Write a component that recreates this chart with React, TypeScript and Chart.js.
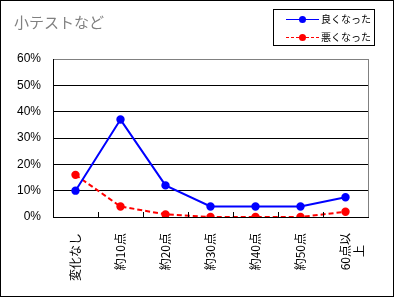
import React, { useEffect, useRef } from "react";
import { Chart, registerables } from "chart.js";

Chart.register(...registerables);

const title = "小テストなど";
const categories: (string | string[])[] = [
  "変化なし",
  "約10点",
  "約20点",
  "約30点",
  "約40点",
  "約50点",
  ["60点以", "上　"],
];
const seriesNames = ["良くなった", "悪くなった"];
const goodValues = [10, 37, 12, 4, 4, 4, 7.5];
const badValues = [16, 4, 1, 0, 0, 0, 2];
const yTicks = [0, 10, 20, 30, 40, 50, 60];

const FONT = "'Noto Sans CJK JP', 'Liberation Sans', sans-serif";

const decorPlugin = {
  id: "decor",
  afterDraw(chart: any) {
    const ctx = chart.ctx;
    const ca = chart.chartArea;
    const xs = chart.scales.x;
    ctx.save();
    ctx.setLineDash([]);
    // right plot border (gray)
    ctx.strokeStyle = "#808080";
    ctx.lineWidth = 1;
    ctx.beginPath();
    ctx.moveTo(Math.round(ca.right) + 0.5, ca.top);
    ctx.lineTo(Math.round(ca.right) + 0.5, ca.bottom);
    ctx.stroke();
    // inside tick marks on x axis at category boundaries
    ctx.strokeStyle = "#000";
    ctx.lineWidth = 1;
    const n = chart.data.labels.length;
    const yb = Math.round(ca.bottom);
    for (let i = 0; i < n - 1; i++) {
      const bx = Math.round(xs.getPixelForValue(i + 0.5)) + 0.5;
      ctx.beginPath();
      ctx.moveTo(bx, yb);
      ctx.lineTo(bx, yb - 5);
      ctx.stroke();
    }
    // title
    ctx.fillStyle = "#808080";
    ctx.font = `15px ${FONT}`;
    ctx.textBaseline = "middle";
    ctx.textAlign = "left";
    ctx.fillText(title, 14, 22);
    // legend
    ctx.strokeStyle = "#000";
    ctx.lineWidth = 1;
    ctx.strokeRect(273.5, 9.5, 101, 36);
    const rows = [19, 37];
    chart.data.datasets.forEach((ds: any, i: number) => {
      const y = rows[i] + 0.5;
      ctx.strokeStyle = ds.borderColor;
      ctx.lineWidth = 1;
      ctx.setLineDash(ds.borderDash && ds.borderDash.length ? [3, 2] : []);
      ctx.beginPath();
      ctx.moveTo(286, y);
      ctx.lineTo(319, y);
      ctx.stroke();
      ctx.setLineDash([]);
      ctx.fillStyle = ds.pointBackgroundColor;
      ctx.beginPath();
      ctx.arc(302.5, y, 3.5, 0, Math.PI * 2);
      ctx.fill();
      ctx.fillStyle = "#000";
      ctx.font = `10px ${FONT}`;
      ctx.textBaseline = "middle";
      ctx.fillText(ds.label, 321, y);
    });
    // outer border
    ctx.strokeStyle = "#000";
    ctx.strokeRect(0.5, 0.5, 393, 296);
    ctx.restore();
  },
};

export default function App() {
  const ref = useRef<HTMLCanvasElement>(null);
  useEffect(() => {
    document.body.style.margin = "0";
    const chart = new Chart(ref.current!, {
      type: "line",
      data: {
        labels: categories,
        datasets: [
          {
            label: seriesNames[0],
            data: goodValues,
            borderColor: "#0000FF",
            backgroundColor: "#0000FF",
            pointBackgroundColor: "#0000FF",
            pointBorderColor: "#0000FF",
            borderWidth: 2,
            pointRadius: 3.2,
            tension: 0,
          },
          {
            label: seriesNames[1],
            data: badValues,
            borderColor: "#FF0000",
            backgroundColor: "#FF0000",
            pointBackgroundColor: "#FF0000",
            pointBorderColor: "#FF0000",
            borderWidth: 2,
            borderDash: [5, 3],
            pointRadius: 3.2,
            tension: 0,
          },
        ],
      },
      options: {
        responsive: false,
        animation: false,
        layout: { padding: { left: 0, top: 59, right: 27, bottom: 0 } },
        plugins: {
          legend: { display: false },
          title: { display: false },
          tooltip: { enabled: false },
        },
        scales: {
          x: {
            offset: true,
            grid: { display: true, drawOnChartArea: false, drawTicks: false, offset: true },
            border: { display: true, color: "#000", width: 1 },
            ticks: {
              minRotation: 90,
              maxRotation: 90,
              autoSkip: false,
              padding: 16,
              color: "#000",
              font: { family: FONT, size: 12 },
            },
            afterFit(scale: any) {
              scale.height = 81;
            },
          },
          y: {
            min: 0,
            max: 60,
            afterBuildTicks(scale: any) {
              scale.ticks = yTicks.map((v) => ({ value: v }));
            },
            grid: {
              drawTicks: false,
              color: (c: any) => (c.tick && c.tick.value === 60 ? "#808080" : "#000"),
              lineWidth: 1,
            },
            border: { display: true, color: "#000", width: 1 },
            ticks: {
              padding: 12,
              color: "#000",
              font: { family: "'Liberation Sans', Arial, sans-serif", size: 12 },
              callback: (v: any) => `${v}%`,
            },
            afterFit(scale: any) {
              scale.width = 53;
            },
          },
        },
      },
      plugins: [decorPlugin],
    });
    return () => chart.destroy();
  }, []);
  return (
    <div style={{ position: "fixed", left: 0, top: 0, width: 395, height: 298, background: "#fff" }}>
      <canvas ref={ref} width={395} height={298} />
    </div>
  );
}
